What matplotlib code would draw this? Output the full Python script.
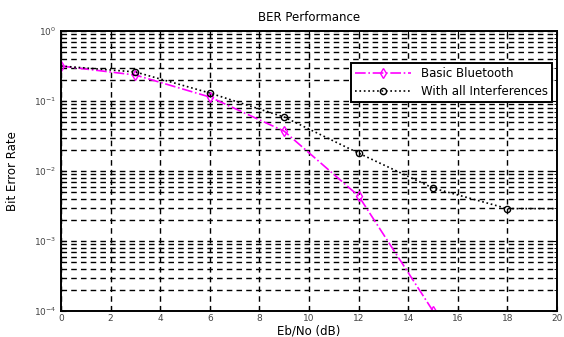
import numpy as np
import matplotlib.pyplot as plt
from matplotlib.ticker import LogLocator, NullFormatter

ebno_basic = [0, 3, 6, 9, 12, 15]
ber_basic = [0.316, 0.235, 0.114, 0.037, 0.0044, 0.0001]

ebno_intf = [0, 3, 6, 9, 12, 15, 18, 20]
ber_intf = [0.316, 0.26, 0.13, 0.059, 0.018, 0.0057, 0.0029, 0.0029]

plt.rcParams['font.family'] = ['DejaVu Sans']

fig = plt.figure(figsize=(5.64, 3.37), dpi=100)
ax = fig.add_axes([61/564, 1 - 311/337, (557-61)/564, (311-31)/337])

ax.semilogy(ebno_basic, ber_basic, color='magenta', linestyle='-.', marker='d',
            markersize=5, markerfacecolor='none', linewidth=1.2, label='Basic Bluetooth')
ax.semilogy(ebno_intf, ber_intf, color='black', linestyle=':', marker='o',
            markersize=4.5, markerfacecolor='none', linewidth=1.2,
            markevery=[1, 2, 3, 4, 5, 6], label='With all Interferences')

ax.set_xlim(0, 20)
ax.set_ylim(1e-4, 1)
ax.set_xticks(range(0, 21, 2))
ax.yaxis.set_major_locator(LogLocator(base=10, numticks=10))
ax.yaxis.set_minor_locator(LogLocator(base=10, subs=np.arange(2, 10), numticks=50))
ax.yaxis.set_minor_formatter(NullFormatter())

ax.grid(True, which='major', color='black', linestyle='--', linewidth=1, dashes=(4, 3))
ax.grid(True, which='minor', axis='y', color='black', linestyle='--', linewidth=1, dashes=(4, 3))

ax.tick_params(direction='in', which='both', labelsize=6.5, top=True, right=True,
               labelcolor='#444444')
ax.tick_params(axis='x', pad=2)
for s in ax.spines.values():
    s.set_linewidth(1.4)

ax.set_title('BER Performance', fontsize=8.5, pad=7)
ax.set_xlabel('Eb/No (dB)', fontsize=8.5, labelpad=1)
ax.set_ylabel('Bit Error Rate', fontsize=8.5)
ax.yaxis.set_label_coords(-0.085, 0.5)

leg = ax.legend(loc='upper right', bbox_to_anchor=(0.99, 0.886), borderaxespad=0,
                fontsize=8.5, fancybox=False, framealpha=1, edgecolor='black',
                borderpad=0.35, handlelength=4.8, labelspacing=0.4)
leg.get_frame().set_linewidth(1.4)

fig.savefig('out.png', dpi=100)
